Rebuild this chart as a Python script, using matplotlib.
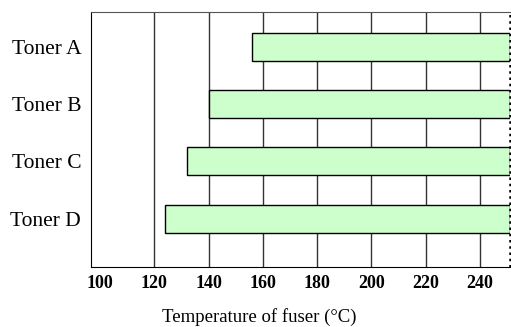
import matplotlib

matplotlib.use("Agg")
import matplotlib.pyplot as plt

# ---- data
toners = ["Toner A", "Toner B", "Toner C", "Toner D"]
start_temp = [156, 140, 132, 124]
end_temp = [251, 251, 251, 251]
tick_vals = [100, 120, 140, 160, 180, 200, 220, 240]
grid_vals = [120, 140, 160, 180, 200, 220, 240]

plt.rcParams.update({
    "font.family": "serif",
    "font.serif": ["Liberation Serif", "DejaVu Serif"],
})

fig = plt.figure(figsize=(5.11, 3.27), dpi=100)
ax = fig.add_axes([0.178, 0.184, 0.820, 0.778])

ypos = list(range(len(toners)))
widths = [e - s for s, e in zip(start_temp, end_temp)]
ax.barh(ypos, widths, left=start_temp, height=0.49, color="#CCFFCC",
        edgecolor="black", linewidth=1.0, zorder=3)

for g in grid_vals:
    ax.axvline(g, color="#333333", lw=1.0, zorder=1)

ax.set_xlim(96.7, 251)
ax.set_ylim(3.84, -0.6)
ax.set_xticks(tick_vals)
ax.set_xticklabels([str(t) for t in tick_vals], fontweight="bold", fontsize=13)
ax.set_yticks(ypos)
ax.set_yticklabels(toners, fontsize=15.5)
ax.tick_params(axis="both", length=0)
ax.tick_params(axis="x", pad=6)
ax.tick_params(axis="y", pad=7)

ax.spines["top"].set_color("#555555")
ax.spines["left"].set_color("black")
ax.spines["bottom"].set_color("black")
ax.spines["right"].set_visible(False)
ax.axvline(251, color="black", lw=1.8, ls=(0, (1, 1.5)), zorder=4, clip_on=False)

# axis title sits well below the tick labels
fig.text(0.508, 0.03, "Temperature of fuser (°C)", fontsize=13.5,
         ha="center", va="center")

fig.savefig("out.png", dpi=100)
